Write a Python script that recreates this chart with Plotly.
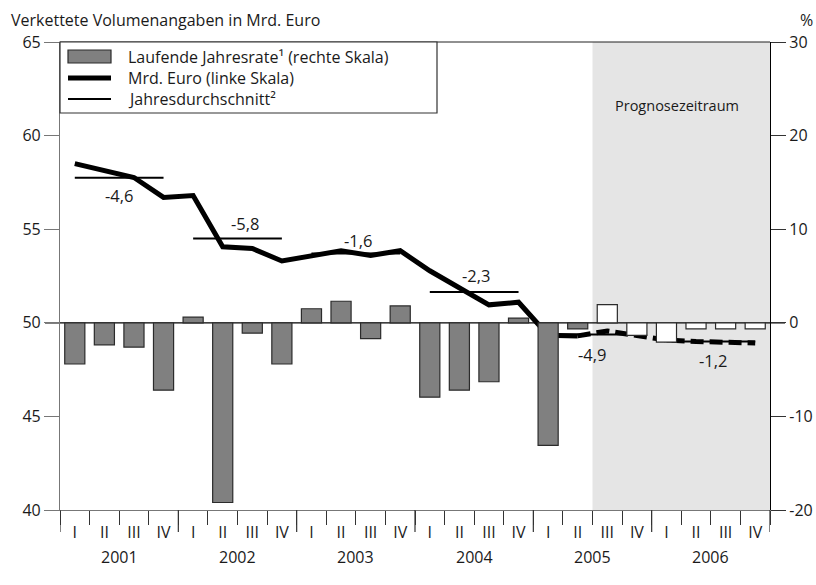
import plotly.graph_objects as go

# --- data -----------------------------------------------------------------
quarters = ["I", "II", "III", "IV"] * 6
years = ["2001", "2002", "2003", "2004", "2005", "2006"]

# laufende Jahresrate in % (rechte Skala)
growth_rate = [-4.4, -2.35, -2.6, -7.2,
               0.6, -19.2, -1.1, -4.4,
               1.5, 2.3, -1.7, 1.8,
               -7.95, -7.2, -6.3, 0.5,
               -13.1, -0.65, 1.95, -1.35,
               -2.07, -0.65, -0.65, -0.65]

# Mrd. Euro, verkettete Volumenangaben (linke Skala)
volume = [58.5, 58.1, 57.76, 56.7,
          56.8, 54.06, 53.97, 53.3,
          53.58, 53.85, 53.6, 53.85,
          52.78, 51.9, 50.96, 51.1,
          49.34, 49.3, 49.56, 49.32,
          49.08, 49.0, 48.95, 48.92]

# Jahresdurchschnitt (linke Skala) und Veraenderung ggü. Vorjahr
annual_avg = [57.75, 54.5, 53.7, 51.65, 49.38, 49.0]
annual_rate = ["-4,6", "-5,8", "-1,6", "-2,3", "-4,9", "-1,2"]

forecast_start = 18   # ab 2005 III Prognose

# --- style ----------------------------------------------------------------
FONT = "Open Sans"
FS = 16
TXT = "#1a1a1a"
GREY_BAR = "#808080"
EDGE = "#2b2b2b"
PLOT_W, PLOT_H = 710, 468

x_pos = [i + 0.5 for i in range(len(quarters))]

fig = go.Figure()

bar_fill = [GREY_BAR if i < forecast_start else "white" for i in range(len(growth_rate))]
fig.add_trace(go.Bar(x=x_pos, y=growth_rate, yaxis="y2", width=0.68,
                     marker=dict(color=bar_fill, line=dict(color=EDGE, width=1.2)),
                     showlegend=False, hoverinfo="skip"))

# Jahresdurchschnitt: thin lines from Q1 to Q4 centre of each year
for k, avg in enumerate(annual_avg):
    fig.add_trace(go.Scatter(x=[x_pos[4 * k], x_pos[4 * k + 3]], y=[avg, avg],
                             mode="lines", line=dict(color="black", width=2),
                             showlegend=False, hoverinfo="skip"))

split = forecast_start - 1
fig.add_trace(go.Scatter(x=x_pos[:split + 1], y=volume[:split + 1], mode="lines",
                         line=dict(color="black", width=5), showlegend=False))
fig.add_trace(go.Scatter(x=x_pos[split:], y=volume[split:], mode="lines",
                         line=dict(color="black", width=5, dash="13px,6px"),
                         showlegend=False))

shapes = [
    # Prognosezeitraum
    dict(type="rect", xref="x", yref="paper", x0=forecast_start, x1=24, y0=0, y1=1,
         fillcolor="#e5e5e5", line_width=0, layer="below"),
    # Nulllinie incl. Ticks links/rechts
    dict(type="line", xref="paper", yref="y2", x0=-15 / PLOT_W, x1=1 + 15 / PLOT_W,
         y0=0, y1=0, line=dict(color="black", width=1.2), layer="below"),
    # oberer Rahmen
    dict(type="line", xref="paper", yref="paper", x0=0, x1=1, y0=1, y1=1,
         line=dict(color="#222", width=1.2)),
]
# long ticks at year boundaries
for b in range(0, 25, 4):
    shapes.append(dict(type="line", xref="x", yref="paper", x0=b, x1=b,
                       y0=0, y1=-22 / PLOT_H, line=dict(color="#333", width=1.2)))

# hand-made legend
def px(xp):
    return (xp - 60) / PLOT_W

def py(yp):
    return (510 - yp) / PLOT_H

shapes += [
    dict(type="rect", xref="paper", yref="paper", x0=0, x1=px(437), y0=py(113), y1=1,
         fillcolor="white", line=dict(color="#333", width=1.2)),
    dict(type="rect", xref="paper", yref="paper", x0=px(68), x1=px(111),
         y0=py(63), y1=py(50), fillcolor=GREY_BAR, line=dict(color=EDGE, width=1.2)),
    dict(type="line", xref="paper", yref="paper", x0=px(68), x1=px(111),
         y0=py(78), y1=py(78), line=dict(color="black", width=5)),
    dict(type="line", xref="paper", yref="paper", x0=px(68), x1=px(111),
         y0=py(99), y1=py(99), line=dict(color="black", width=2)),
]

legend_labels = ["Laufende Jahresrate¹ (rechte Skala)",
                 "Mrd. Euro (linke Skala)",
                 "Jahresdurchschnitt²"]
annotations = []
for lab, yp in zip(legend_labels, [57, 78, 99]):
    annotations.append(dict(text=lab, xref="paper", yref="paper", x=px(126), y=py(yp),
                            xanchor="left", yanchor="middle", showarrow=False,
                            font=dict(size=FS, color=TXT)))

# annual rates
rate_pos = [(2.0, 56.78), (6.25, 55.3), (10.08, 54.38), (14.05, 52.54),
            (17.97, 48.29), (22.08, 47.97)]
for txt, (xa, ya) in zip(annual_rate, rate_pos):
    annotations.append(dict(text=txt, x=xa, y=ya, xref="x", yref="y", showarrow=False,
                            font=dict(size=FS + 0.5, color=TXT)))

# year labels
for k, yr in enumerate(years):
    annotations.append(dict(text=yr, x=4 * k + 2, y=py(557), xref="x", yref="paper",
                            showarrow=False, yanchor="middle",
                            font=dict(size=FS, color=TXT)))

annotations += [
    dict(text="Verkettete Volumenangaben in Mrd. Euro", xref="paper", yref="paper",
         x=px(9), y=py(20), xanchor="left", yanchor="middle", showarrow=False,
         font=dict(size=FS, color=TXT)),
    dict(text="%", xref="paper", yref="paper", x=px(806), y=py(20),
         xanchor="center", yanchor="middle", showarrow=False,
         font=dict(size=FS, color=TXT)),
    dict(text="Prognosezeitraum", x=20.86, y=py(106), xref="x", yref="paper",
         showarrow=False, yanchor="middle", font=dict(size=14.5, color=TXT)),
]

left_ticks = [40, 45, 50, 55, 60, 65]
right_ticks = [-20, -10, 0, 10, 20, 30]

fig.update_layout(
    width=816, height=585,
    margin=dict(l=60, r=46, t=42, b=75),
    paper_bgcolor="white", plot_bgcolor="white",
    font=dict(family=FONT, size=FS, color=TXT),
    showlegend=False,
    xaxis=dict(range=[0, 24], tickmode="array", tickvals=x_pos, ticktext=quarters,
               ticks="", showgrid=False, zeroline=False,
               showline=True, linecolor="#777", linewidth=1.2,
               ticklabelstandoff=8,
               minor=dict(tickmode="linear", tick0=0, dtick=1, ticks="outside",
                          ticklen=14, tickcolor="#333", tickwidth=1.2, showgrid=False)),
    yaxis=dict(range=[40, 65], tickmode="array", tickvals=left_ticks,
               ticktext=[str(v) for v in left_ticks],
               ticks="outside", ticklen=15, tickcolor="#777", tickwidth=1.2,
               showline=True, linecolor="#777", linewidth=1.2,
               showgrid=False, zeroline=False, automargin=False),
    yaxis2=dict(range=[-20, 30], overlaying="y", side="right", tickmode="array",
                tickvals=right_ticks, ticktext=[str(v) for v in right_ticks],
                ticks="outside", ticklen=15, tickcolor="#333", tickwidth=1.2,
                showline=True, linecolor="black", linewidth=1.2,
                showgrid=False, zeroline=False, automargin=False),
    shapes=shapes,
    annotations=annotations,
)

# page has a default body margin; drop it so the figure sits at (0, 0)
fig.write_html("out.html", config={"displayModeBar": False},
               post_script="document.body.style.margin='0';")
